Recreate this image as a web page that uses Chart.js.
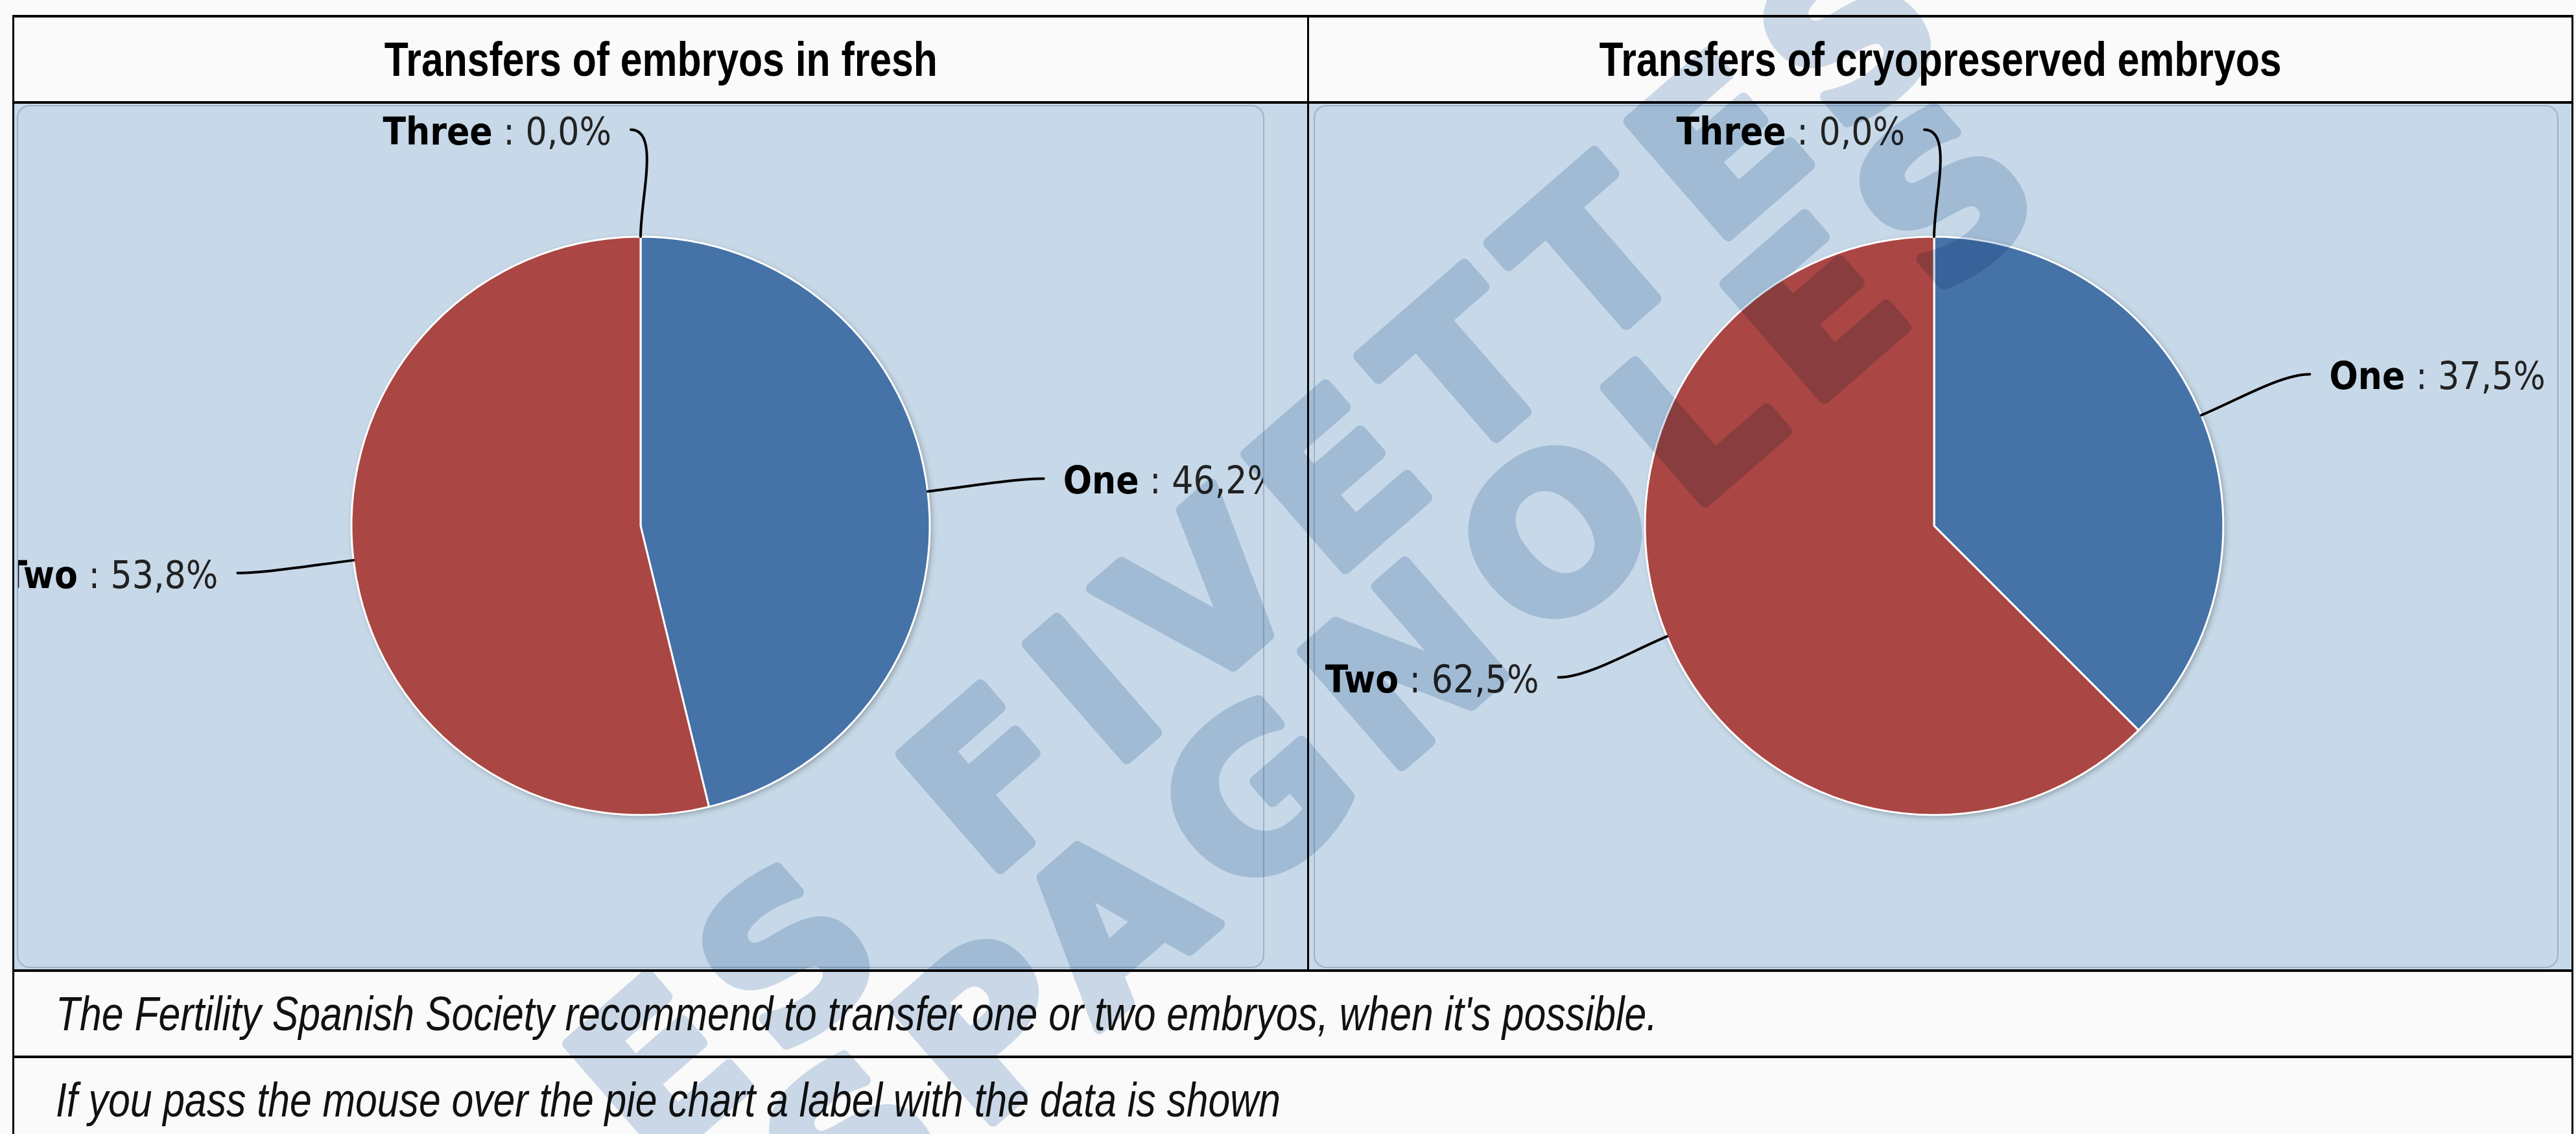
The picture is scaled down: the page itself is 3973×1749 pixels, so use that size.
<!DOCTYPE html>
<html>
<head>
<meta charset="utf-8">
<title>Transfers of embryos</title>
<script src="https://cdn.jsdelivr.net/npm/chart.js@4.4.0/dist/chart.umd.min.js"></script>
<style>
html, body { margin: 0; padding: 0; background: #fafafa; width: 3973px; height: 1749px; overflow: hidden; }
body { position: relative; }
.hline { position: absolute; left: 19px; width: 3950px; height: 4px; background: #000; }
.vline { position: absolute; width: 3px; background: #000; }
.title { position: absolute; top: 27px; height: 129px; text-align: center; color: #000;
         font: bold 74px "Liberation Sans Narrow", "Arial Narrow", sans-serif; line-height: 129px; }
.cell { position: absolute; top: 160px; height: 1335px; background: #c7d9e8; }
.panel { position: absolute; top: 162px; height: 1331px; background: #c7d9e8; border-radius: 20px; overflow: hidden; }
.panel-border { position: absolute; top: 162px; height: 1331px; border: 2px solid #9fb2c6; border-radius: 20px;
                box-sizing: border-box; pointer-events: none; }
.note { position: absolute; left: 86px; height: 129px; color: #111; white-space: nowrap;
        font: italic 74px "Liberation Sans Narrow", "Arial Narrow", sans-serif; line-height: 129px; }
.no-narrow .title span, .no-narrow .note span { display: inline-block; font-family: "Liberation Sans", Arial, sans-serif; transform: scaleX(0.82); }
.no-narrow .note span { transform-origin: left center; }
.wm { position: absolute; left: 0; top: 0; pointer-events: none; mix-blend-mode: multiply; z-index: 10; }
</style>
</head>
<body>
<div class="cell" style="left:22px; width:1994px;"></div>
<div class="cell" style="left:2019px; width:1947px;"></div>

<div class="title" style="left:22px; width:1994px;"><span>Transfers of embryos in fresh</span></div>
<div class="title" style="left:2019px; width:1947px;"><span>Transfers of cryopreserved embryos</span></div>

<div class="panel" style="left:26px; width:1924px;"><canvas id="freshChart" width="1924" height="1331"></canvas></div>
<div class="panel" style="left:2026px; width:1920px;"><canvas id="cryoChart" width="1920" height="1331"></canvas></div>
<div class="panel-border" style="left:26px; width:1924px;"></div>
<div class="panel-border" style="left:2026px; width:1920px;"></div>

<div class="note" style="top:1499px;"><span>The Fertility Spanish Society recommend to transfer one or two embryos, when it's possible.</span></div>
<div class="note" style="top:1632px;"><span>If you pass the mouse over the pie chart a label with the data is shown</span></div>

<div class="hline" style="top:23px;"></div>
<div class="hline" style="top:156px;"></div>
<div class="hline" style="top:1495px;"></div>
<div class="hline" style="top:1628px;"></div>
<div class="vline" style="left:19px; top:23px; height:1726px;"></div>
<div class="vline" style="left:3966px; top:23px; height:1726px;"></div>
<div class="vline" style="left:2016px; top:23px; height:1476px;"></div>

<svg class="wm" width="3973" height="1749">
  <g font-family="DejaVu Sans" font-weight="bold" font-size="320" letter-spacing="40" fill="rgb(206,220,235)"
     stroke="rgb(206,220,235)" stroke-width="18" stroke-linejoin="round">
    <text transform="translate(1007,1805) rotate(-41)">ES FIVETTES</text>
    <text transform="translate(1110,2095) rotate(-41)">ESPAGNOLES</text>
  </g>
</svg>

<script>
const categories = ['One', 'Two', 'Three'];
const freshValues = [46.2, 53.8, 0.0];
const cryoValues = [37.5, 62.5, 0.0];
const sliceColors = ['#4572A7', '#AA4643', '#89A54E'];

// narrow font may be missing, squeeze the regular one instead
function hasFont(name) {
    const c = document.createElement('canvas').getContext('2d');
    c.font = '40px monospace';
    const a = c.measureText('Transfers of embryos').width;
    c.font = '40px "' + name + '", monospace';
    const b = c.measureText('Transfers of embryos').width;
    return a !== b;
}
if (!hasFont('Liberation Sans Narrow')) document.body.classList.add('no-narrow');

function pct(v) {
    return v.toFixed(1).replace('.', ',') + '%';
}

const labelFont = '"DejaVu Sans Condensed", "DejaVu Sans", sans-serif';

// shadow under the pie + labels with connectors
const pieLabels = {
    id: 'pieLabels',
    beforeDatasetsDraw(chart) {
        const arc = chart.getDatasetMeta(0).data[0];
        if (!arc) return;
        const ctx = chart.ctx;
        ctx.save();
        ctx.shadowColor = 'rgba(0,0,0,0.3)';
        ctx.shadowBlur = 10;
        ctx.shadowOffsetX = 3;
        ctx.shadowOffsetY = 3;
        ctx.beginPath();
        ctx.arc(arc.x, arc.y, arc.outerRadius, 0, Math.PI * 2);
        ctx.fillStyle = '#ffffff';
        ctx.fill();
        ctx.restore();
    },
    afterDatasetsDraw(chart) {
        const ctx = chart.ctx;
        const meta = chart.getDatasetMeta(0);
        const values = chart.data.datasets[0].data;
        meta.data.forEach((arc, i) => {
            const mid = (arc.startAngle + arc.endAngle) / 2;
            const r = arc.outerRadius;
            const cos = Math.cos(mid), sin = Math.sin(mid);
            const right = cos > 1e-6;
            const dir = right ? 1 : -1;
            const sx = arc.x + r * cos, sy = arc.y + r * sin;
            const ex = arc.x + (r + 165) * cos, ey = arc.y + (r + 165) * sin;

            ctx.save();
            ctx.strokeStyle = '#000';
            ctx.lineWidth = 4;
            ctx.lineCap = 'round';
            ctx.beginPath();
            ctx.moveTo(sx, sy);
            ctx.bezierCurveTo(sx + 60 * cos, sy + 60 * sin, ex - dir * 30, ey, ex + dir * 15, ey);
            ctx.stroke();

            const name = chart.data.labels[i];
            const val = ' : ' + pct(values[i]);
            ctx.textBaseline = 'middle';
            ctx.font = 'bold 58px ' + labelFont;
            const w1 = ctx.measureText(name).width;
            ctx.font = '58px ' + labelFont;
            const w2 = ctx.measureText(val).width;
            const tx = right ? ex + 45 : ex - 45 - w1 - w2;
            const ty = ey + 8;
            ctx.font = 'bold 58px ' + labelFont;
            ctx.fillStyle = '#000';
            ctx.fillText(name, tx, ty);
            ctx.font = '58px ' + labelFont;
            ctx.fillStyle = '#222';
            ctx.fillText(val, tx + w1, ty);
            ctx.restore();
        });
    }
};

function makePie(id, values, padding) {
    const ctx = document.getElementById(id).getContext('2d');
    return new Chart(ctx, {
        type: 'pie',
        data: {
            labels: categories,
            datasets: [{
                data: values,
                backgroundColor: sliceColors,
                borderColor: '#ffffff',
                borderWidth: 3,
                radius: 446
            }]
        },
        options: {
            responsive: false,
            devicePixelRatio: 1,
            animation: false,
            layout: { padding: padding },
            plugins: {
                legend: { display: false },
                tooltip: {
                    callbacks: { label: (c) => c.label + ': ' + pct(c.parsed) }
                }
            }
        },
        plugins: [pieLabels]
    });
}

makePie('freshChart', freshValues, { top: 0, bottom: 33, left: 0, right: 0 });
makePie('cryoChart', cryoValues, { top: 0, bottom: 33, left: 0, right: 6 });
</script>
</body>
</html>
